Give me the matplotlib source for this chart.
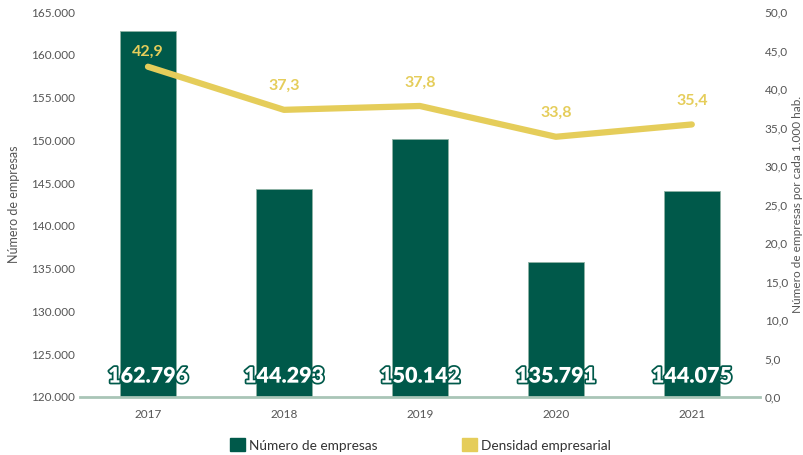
import matplotlib
matplotlib.use("Agg")
import matplotlib.pyplot as plt
import matplotlib.patheffects as pe
from matplotlib.patches import Patch

plt.rcParams['font.family'] = ['Lato', 'DejaVu Sans']

years = ['2017', '2018', '2019', '2020', '2021']
empresas = [162796, 144293, 150142, 135791, 144075]
densidad = [42.9, 37.3, 37.8, 33.8, 35.4]
label_offsets = [11, 17, 17, 17, 17]  # points above the line

GREEN = '#00594a'
YELLOW = '#e5cd5a'
GREY = '#555555'


def fmt_miles(v):
    return f"{v:,.0f}".replace(',', '.')


fig = plt.figure(figsize=(8.04, 4.55), dpi=100)
ax = fig.add_axes([0.0995, 0.1275, 0.8455, 0.846])
x = range(len(years))

ax.bar(x, empresas, width=0.41, color=GREEN, edgecolor='#8fb3a5', linewidth=0.6, zorder=2)
ax.set_ylim(120000, 165000)
ax.set_xlim(-0.5, 4.5)
ax.set_yticks(range(120000, 165001, 5000))
ax.set_yticklabels([fmt_miles(v) for v in range(120000, 165001, 5000)])
ax.set_xticks(list(x))
ax.set_xticklabels(years)
ax.set_ylabel('Número de empresas', color=GREY, fontsize=9, labelpad=8)
ax.tick_params(length=0, labelsize=8.5, labelcolor=GREY)
ax.tick_params(axis='x', pad=9)
for s in ['top', 'left', 'right']:
    ax.spines[s].set_visible(False)
ax.spines['bottom'].set_color('#a9c5b7')
ax.spines['bottom'].set_linewidth(2)
ax.spines['bottom'].set_zorder(5)

for i, v in enumerate(empresas):
    ax.annotate(fmt_miles(v), xy=(i, 120000), xytext=(0, 15), textcoords='offset points',
                ha='center', va='center', fontsize=15.5, fontweight='heavy', color='white',
                path_effects=[pe.withStroke(linewidth=2.5, foreground=GREEN)], zorder=6)

ax2 = ax.twinx()
ax2.plot(list(x), densidad, color=YELLOW, linewidth=4.5, solid_capstyle='round',
         solid_joinstyle='round', zorder=4)
ax2.set_ylim(0, 50)
ax2.set_yticks(range(0, 51, 5))
ax2.set_yticklabels([f"{v:.1f}".replace('.', ',') for v in range(0, 51, 5)])
ax2.set_ylabel('Número de empresas por cada 1.000 hab.', color=GREY, fontsize=8.5, labelpad=3)
ax2.tick_params(length=0, labelsize=8.5, labelcolor=GREY)
for s in ['top', 'left', 'right', 'bottom']:
    ax2.spines[s].set_visible(False)

for i, v in enumerate(densidad):
    ax2.annotate(f"{v:.1f}".replace('.', ','), xy=(i, v), xytext=(0, label_offsets[i]),
                 textcoords='offset points', ha='center', va='center', fontsize=11.5,
                 fontweight='bold', color=YELLOW)

handles = [Patch(color=GREEN, label='Número de empresas'),
           Patch(color=YELLOW, label='Densidad empresarial')]
fig.legend(handles=handles, loc='center', bbox_to_anchor=(0.523, 0.022), ncol=2,
           frameon=False, fontsize=9.8, handlelength=1.1, handleheight=1.1,
           handletextpad=0.3, columnspacing=6.2, labelcolor='#333333')

fig.savefig('out.png', dpi=100)
